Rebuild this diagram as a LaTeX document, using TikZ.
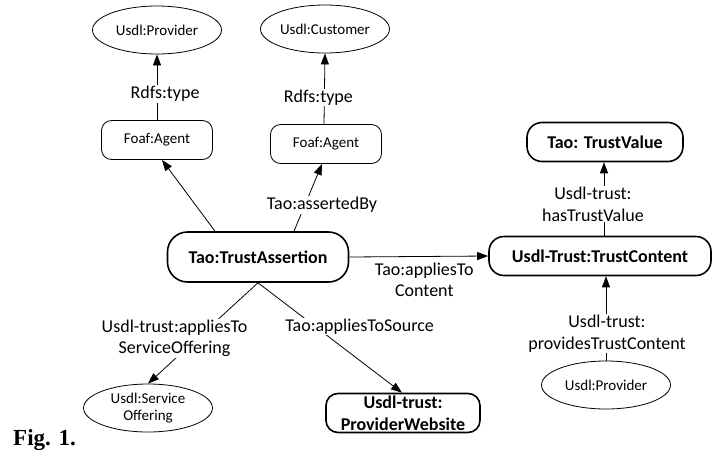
\documentclass[tikz,border=0pt]{standalone}
\usepackage{fontspec}
\setmainfont{Carlito}
\newfontfamily\figfont{Liberation Serif}
\usetikzlibrary{shapes.geometric,arrows.meta}

\begin{document}
\begin{tikzpicture}[x=1pt, y=-1pt,
  cls/.style={draw, ellipse, line width=0.8pt, font=\fontsize{15}{17.5}\selectfont,
    minimum width=129pt, minimum height=48pt, inner sep=0pt, align=center},
  agent/.style={draw, rounded corners=10pt, line width=0.8pt, font=\fontsize{15}{17.5}\selectfont,
    minimum width=111pt, minimum height=39pt},
  res/.style={draw, line width=1.6pt, rounded corners=15pt, font=\fontsize{18}{22}\selectfont\bfseries,
    minimum height=39pt, inner sep=0pt, align=center},
  lbl/.style={fill=white, inner sep=1pt, align=center, font=\fontsize{18}{21.5}\selectfont},
  arr/.style={-{Triangle[length=11pt,width=8pt]}, line width=0.8pt}]
  \useasboundingbox (0,0) rectangle (712,453);

  \node[cls] (prov) at (157,30) {Usdl:Provider};
  \node[cls] (cust) at (325,29) {Usdl:Customer};
  \node[agent] (agent1) at (157,140) {Foaf:Agent};
  \node[agent] (agent2) at (326,144) {Foaf:Agent};
  \node[res, minimum width=181pt, minimum height=50pt, rounded corners=20pt] (assert) at (258,257) {Tao:TrustAssertion};
  \node[res, minimum width=156pt] (tvalue) at (605,142) {Tao: TrustValue};
  \node[res, minimum width=222pt] (tcontent) at (600,256) {Usdl-Trust:TrustContent};
  \node[cls] (prov2) at (606,385) {Usdl:Provider};
  \node[cls] (offer) at (148,408) {Usdl:Service\\Offering};
  \node[res, minimum width=154pt, rounded corners=12pt] (site) at (403,413) {Usdl-trust:\\ProviderWebsite};
  \node[anchor=base west, inner sep=0pt, font=\fontsize{23}{26}\figfont\bfseries] (fig) at (13,445) {Fig. 1.};

  \draw[arr] (agent1.north) -- node[lbl, pos=0.4, xshift=8pt] (type1) {Rdfs:type} (prov.south);
  \draw[arr] ([xshift=-2pt]agent2.north) -- node[lbl, pos=0.375, xshift=-6pt] (type2) {Rdfs:type} (cust.south);
  \draw[arr] ([xshift=-43pt]assert.north) -- ([xshift=5pt]agent1.south);
  \draw[arr] ([xshift=36pt]assert.north) -- node[lbl, pos=0.39, xshift=17pt] (by) {Tao:assertedBy} ([xshift=-4pt]agent2.south);
  \draw[arr] (assert.east) -- node[lbl, below, pos=0.54, yshift=-5pt] (content) {Tao:appliesTo\\Content} (tcontent.west);
  \draw[arr] ([xshift=4pt]tcontent.north) -- node[lbl, pos=0.43, xshift=-11pt] (hasvalue) {Usdl-trust:\\hasTrustValue} ([xshift=-1pt]tvalue.south);
  \draw[arr] (prov2.north) -- node[lbl, pos=0.32, xshift=1pt] (provides) {Usdl-trust:\\providesTrustContent} ([xshift=6pt]tcontent.south);
  \draw[arr] (assert.south) -- node[lbl, pos=0.55, xshift=-23pt] (offering) {Usdl-trust:appliesTo\\ServiceOffering} (offer.north);
  \draw[arr] (assert.south) -- node[lbl, pos=0.4, xshift=44pt] (source) {Tao:appliesToSource} ([xshift=-1pt]site.north);
\end{tikzpicture}
\end{document}
